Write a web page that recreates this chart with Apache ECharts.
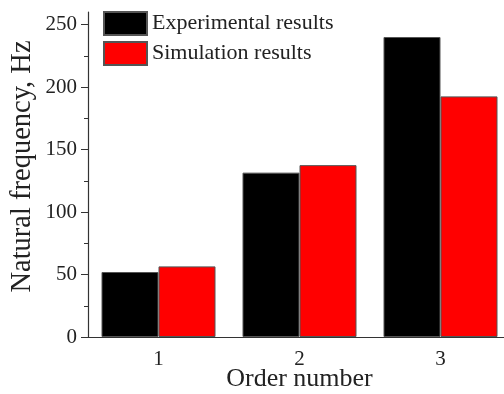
<!DOCTYPE html>
<html>
<head>
<meta charset="utf-8">
<script src="https://cdn.jsdelivr.net/npm/echarts@6/dist/echarts.min.js"></script>
<style>html,body{margin:0;padding:0;background:#fff;}#c{width:504px;height:394px;}</style>
</head>
<body>
<div id="c"></div>
<script>
var categories = ['1', '2', '3'];
var experimental = [52, 131.5, 240];
var simulation = [56.5, 137.5, 192.5];
var yMajorTicks = [0, 50, 100, 150, 200, 250];
var yMinorTicks = [25, 75, 125, 175, 225];
var yMax = 260;

var font = '"Liberation Serif", "DejaVu Serif", serif';
var chart = echarts.init(document.getElementById('c'));
chart.setOption({
  animation: false,
  backgroundColor: '#fff',
  grid: { left: 88, top: 12, width: 423, bottom: 57, containLabel: false, outerBoundsMode: 'none' },
  legend: {
    orient: 'vertical', left: 103, top: 11, padding: 0, itemWidth: 43, itemHeight: 23, itemGap: 5,
    icon: 'rect',
    textStyle: { fontFamily: font, fontSize: 22, color: '#222' },
    data: ['Experimental results', 'Simulation results']
  },
  xAxis: [{
    type: 'category', data: categories,
    name: 'Order number', nameLocation: 'middle', nameGap: 29, nameMoveOverlap: false,
    nameTextStyle: { fontFamily: font, fontSize: 26, color: '#222' },
    axisLine: { lineStyle: { color: '#333', width: 1.2 } },
    axisTick: { alignWithLabel: true, length: 7, lineStyle: { color: '#333' } },
    axisLabel: { fontFamily: font, fontSize: 21, color: '#222', margin: 12 }
  }, {
    type: 'category', data: categories, position: 'bottom',
    axisLine: { show: false },
    axisTick: { length: 4, lineStyle: { color: '#333' } },
    axisLabel: { show: false }
  }],
  yAxis: [{
    type: 'value', min: 0, max: yMax,
    name: 'Natural frequency, Hz', nameLocation: 'middle', nameGap: 51, nameMoveOverlap: false,
    nameTextStyle: { fontFamily: font, fontSize: 28.5, color: '#222', padding: [0, 0, 0, 16] },
    axisLine: { show: true, lineStyle: { color: '#333', width: 1.2 } },
    axisTick: { show: true, length: 7, customValues: yMajorTicks, lineStyle: { color: '#333' } },
    axisLabel: { fontFamily: font, fontSize: 21, color: '#222', margin: 11, customValues: yMajorTicks },
    splitLine: { show: false }
  }, {
    type: 'value', min: 0, max: yMax, position: 'left',
    axisLine: { show: false },
    axisTick: { show: true, length: 4, customValues: yMinorTicks, lineStyle: { color: '#333' } },
    axisLabel: { show: false },
    splitLine: { show: false }
  }],
  series: [{
    name: 'Experimental results', type: 'bar', data: experimental,
    barWidth: 57, barGap: '0%',
    itemStyle: { color: '#000', borderColor: '#555', borderWidth: 1 }
  }, {
    name: 'Simulation results', type: 'bar', data: simulation,
    barWidth: 57, barGap: '0%',
    itemStyle: { color: '#ff0000', borderColor: '#555', borderWidth: 1 }
  }]
});
</script>
</body>
</html>
